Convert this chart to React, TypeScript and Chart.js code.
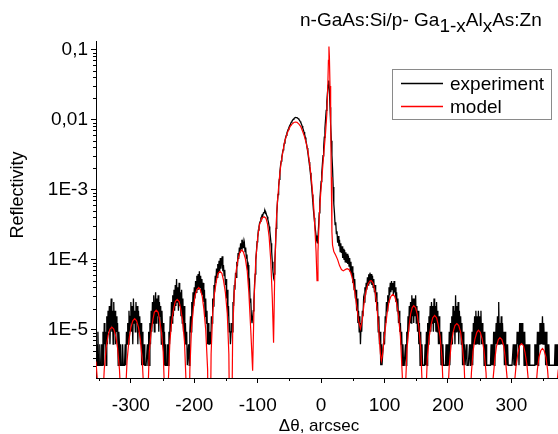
import React, { useEffect, useRef } from "react";
import { Chart, registerables } from "chart.js";

Chart.register(...registerables);

// ---- data ----
const seriesNames = ["experiment", "model"];
const COUNT_UNIT = 3.1e-6; // reflectivity of one detector count
const expStartX = -354;
const expStepX = 1;
// experiment, in detector counts, one value per arcsec from -354 (20 per row)
const expCounts = [
  2, 1, 3, 1, 1, 2, 1, 1, 2, 1, 3, 1, 4, 2, 3, 1, 5, 2, 6, 3,
  7, 2, 5, 9, 3, 6, 2, 8, 3, 6, 2, 5, 3, 4, 1, 3, 2, 1, 2, 1,
  1, 2, 1, 1, 1, 2, 1, 3, 2, 4, 2, 6, 3, 5, 8, 3, 7, 2, 9, 4,
  6, 3, 8, 4, 7, 2, 6, 3, 5, 2, 4, 1, 3, 2, 1, 2, 1, 1, 1, 1,
  2, 1, 3, 1, 4, 2, 6, 3, 8, 4, 10, 3, 7, 11, 4, 9, 5, 10, 3, 8,
  5, 7, 2, 6, 3, 4, 1, 3, 1, 2, 1, 1, 2, 1, 3, 2, 5, 3, 8, 4,
  10, 5, 12, 6, 14, 7, 17, 8, 13, 6, 15, 7, 11, 5, 12, 4, 9, 3, 7, 2,
  4, 2, 3, 1, 1, 2, 1, 3, 5, 3, 8, 5, 11, 7, 13, 9, 16, 11, 19, 12,
  20, 12, 22, 13, 19, 11, 17, 10, 15, 8, 12, 5, 9, 4, 6, 2, 4, 2, 2, 3,
  2, 5, 4, 9, 7, 14, 11, 19, 15, 24, 18, 28, 20, 31, 22, 34, 24, 30, 36, 22,
  27, 19, 23, 14, 17, 9, 12, 5, 7, 3, 4, 2, 3, 4, 3, 8, 7, 14, 12, 21,
  18, 30, 26, 40, 33, 48, 40, 55, 46, 62, 50, 58, 47, 55, 42, 48, 34, 38, 25, 27,
  15, 16, 8, 9, 5, 4, 4, 6, 8, 14, 20, 32, 42, 58, 66, 85, 95, 108, 113, 126,
  132, 140, 138, 150, 152, 157, 146, 150, 140, 132, 120, 110, 96, 84, 68, 55, 42, 30, 22, 18,
  20, 30, 48, 90, 145, 205, 274, 360, 450, 575, 710, 820, 935, 1060, 1190, 1335, 1480, 1625, 1770, 1915,
  2060, 2190, 2320, 2450, 2580, 2710, 2840, 2950, 3060, 3145, 3230, 3310, 3390, 3420, 3450, 3440, 3420, 3370, 3320, 3225,
  3130, 3015, 2900, 2755, 2610, 2450, 2290, 2130, 1970, 1790, 1610, 1435, 1260, 1100, 935, 800, 680, 560, 450, 360,
  275, 210, 160, 128, 103, 85, 71, 60, 56, 68, 97, 150, 226, 310, 420, 560, 740, 980, 1290, 1800,
  2420, 3250, 4350, 5800, 7740, 10000, 11600, 8500, 4840, 2800, 1610, 1000, 645, 350, 200, 150, 102, 110, 76, 82,
  56, 70, 50, 62, 42, 55, 40, 50, 34, 46, 32, 44, 30, 41, 29, 39, 28, 37, 26, 34,
  22, 30, 19, 26, 15, 21, 12, 17, 9, 12, 6, 9, 4, 6, 3, 5, 2, 4, 3, 6,
  5, 9, 8, 13, 10, 15, 12, 18, 14, 20, 15, 21, 16, 20, 14, 19, 13, 17, 11, 14,
  8, 11, 6, 8, 3, 5, 2, 3, 1, 2, 1, 1, 2, 3, 2, 5, 4, 8, 6, 10,
  8, 13, 10, 15, 11, 16, 12, 15, 10, 16, 11, 13, 8, 11, 6, 9, 4, 6, 3, 4,
  2, 3, 1, 2, 1, 1, 1, 2, 1, 3, 2, 5, 3, 7, 4, 8, 4, 10, 5, 9,
  4, 9, 5, 10, 4, 7, 3, 6, 2, 4, 1, 3, 1, 2, 1, 1, 1, 1, 2, 1,
  3, 1, 4, 2, 5, 3, 7, 3, 8, 4, 7, 3, 9, 4, 7, 3, 8, 3, 6, 2,
  5, 2, 3, 1, 3, 1, 2, 1, 1, 1, 1, 2, 1, 1, 2, 1, 3, 1, 4, 2,
  5, 2, 7, 3, 6, 2, 10, 3, 7, 3, 8, 2, 6, 3, 5, 2, 4, 1, 3, 1,
  2, 1, 1, 2, 1, 1, 1, 1, 2, 1, 2, 1, 3, 1, 4, 2, 5, 2, 6, 2,
  5, 2, 6, 2, 5, 3, 6, 2, 4, 2, 3, 1, 3, 1, 2, 1, 1, 1, 1, 1,
  1, 1, 2, 1, 2, 1, 3, 1, 3, 2, 4, 2, 5, 2, 8, 2, 4, 2, 5, 2,
  4, 2, 3, 1, 3, 1, 2, 1, 2, 1, 1, 1, 1, 1, 1, 1, 1, 2, 1, 2,
  1, 2, 1, 3, 2, 3, 1, 4, 2, 4, 2, 4, 2, 3, 1, 3, 1, 2, 1, 2,
  1, 1, 2, 1, 1, 1, 1, 1, 1, 1, 1, 2, 1, 2, 1, 3, 1, 3, 2, 4,
  2, 4, 2, 5, 2, 4, 2, 3, 1, 3, 1, 2, 1, 2, 1, 1, 1, 1, 1, 1,
  1, 1, 1, 2, 1, 1, 2, 1, 1,
];

const modelX = [
  -355, -352, -348,
  -345, -342, -339, -336, -333, -330, -327, -324, -321, -318, -315, -312,
  -309, -306, -303, -300, -297, -294, -291, -288, -285, -282, -279, -276,
  -273, -271, -268, -265, -263, -260, -257, -255, -252, -249, -247, -244,
  -241, -238.5, -235.5, -232.5, -230, -227, -224, -221.5, -218.5, -215.5, -213, -210,
  -207, -204.5, -201.5, -199, -196, -193, -190.5, -187.5, -185, -182, -179, -176.5,
  -173.5, -171, -168, -165, -162.5, -159.5, -156.5, -154, -151, -148, -145.5, -142.5,
  -139.5, -137, -134, -131, -128, -125, -122.5, -119.5, -116.5, -114, -111, -108,
  -105.5, -103, -100, -97, -93.5, -90, -87, -84.5, -82, -79.5, -77, -75,
  -73, -71, -69, -66, -63.5, -60.5, -58, -55, -52, -49, -46, -43, -40.5,
  -38, -35, -32, -29.5, -26.5, -23.5, -20.5, -18, -15, -12, -10, -8, -6.5,
  -5, -3, -1, 1, 3, 5, 7, 9, 10.5, 11.5, 12.3, 13, 14, 15, 16, 17, 18,
  20, 23, 26, 29, 32, 35, 38, 41, 44, 47, 50, 53, 56, 59, 62,
  65, 68, 71, 74, 77, 79, 82, 85, 88, 91, 93.5, 95,
  96.5, 98, 101, 104, 107, 110, 113, 116, 119, 122, 125, 128, 130.5,
  133, 135.5, 138.5, 141, 143.5, 146, 149, 151.5, 154, 157, 159.5, 162,
  165, 167.5, 170.5, 173.5, 176, 179, 182, 184.5, 187.5, 190.5, 193, 196,
  199, 202, 205, 208, 211, 214, 217, 220, 222.5, 225.5, 228, 231,
  234, 237, 239.5, 242.5, 245.5, 248, 251, 254, 257, 260, 262.5, 265.5,
  268.5, 271, 274, 276.5, 279.5, 282, 285, 288, 290.5, 293.5, 296, 299,
  302, 304.5, 307.5, 310.5, 313, 316, 319, 321.5, 324.5, 327.5, 330, 333,
  335.5, 338.5, 341, 343.5, 346.5, 349, 351.5, 354.5, 357, 359.5, 362.5, 365,
  368, 371, 374,
];
const modelY = [
  3.5e-6, 1.5e-6, 1e-8,
  7.3e-7, 2.7e-6, 5.5e-6, 8.2e-6, 1.02e-5, 1.09e-5, 1.02e-5, 8.2e-6, 5.5e-6, 2.7e-6, 7.3e-7, 1e-8,
  9.6e-7, 3.6e-6, 7.2e-6, 1.08e-5, 1.34e-5, 1.44e-5, 1.34e-5, 1.08e-5, 7.2e-6, 3.6e-6, 9.6e-7, 1e-8,
  1.3e-6, 4.8e-6, 9.5e-6, 1.43e-5, 1.77e-5, 1.9e-5, 1.77e-5, 1.43e-5, 9.5e-6, 4.8e-6, 1.3e-6, 1e-8,
  1.8e-6, 6.8e-6, 1.35e-5, 2e-5, 2.52e-5, 2.7e-5, 2.52e-5, 2e-5, 1.35e-5, 6.8e-6, 1.8e-6, 1e-8,
  2.7e-6, 1e-5, 2e-5, 3e-5, 3.73e-5, 4e-5, 3.73e-5, 3e-5, 2e-5, 1e-5, 2.7e-6, 1e-8,
  4.5e-6, 1.7e-5, 3.4e-5, 5.1e-5, 6.35e-5, 6.8e-5, 6.35e-5, 5.1e-5, 3.4e-5, 1.7e-5, 4.5e-6, 1e-8,
  9.2e-6, 3.4e-5, 6.85e-5, 1.03e-4, 1.28e-4, 1.37e-4, 1.28e-4, 1.03e-4, 6.85e-5, 3.4e-5, 1e-5, 2.6e-6,
  3e-5, 1e-4, 2.1e-4, 3.2e-4, 3.9e-4, 4.1e-4, 3.9e-4, 3.2e-4, 2.1e-4, 1e-4, 2.8e-5, 6.5e-6,
  7.7e-5, 3.1e-4, 6.5e-4, 1.4e-3, 2.3e-3, 3.4e-3, 4.6e-3, 5.8e-3, 6.9e-3, 7.9e-3, 8.6e-3, 9.05e-3, 9.2e-3,
  9.1e-3, 8.6e-3, 7.9e-3, 6.9e-3, 5.8e-3, 4.6e-3, 3.4e-3, 2.3e-3, 1.3e-3, 6.2e-4, 3e-4, 1.3e-4, 5e-5,
  1.3e-4, 4e-4, 8e-4, 1.4e-3, 2.4e-3, 4e-3, 6.5e-3, 0.012, 0.03, 0.07, 0.11, 0.08, 0.03, 0.01, 1.5e-3, 2.5e-4, 1.6e-4,
  1.3e-4, 1.15e-4, 1e-4, 8.2e-5, 7.2e-5, 6.9e-5, 7.2e-5, 7.4e-5, 7.2e-5, 6.4e-5, 5e-5, 3.5e-5, 2.2e-5, 1.35e-5, 1.03e-5,
  1.4e-5, 2.5e-5, 3.6e-5, 4.5e-5, 4.95e-5, 5e-5, 4.6e-5, 3.5e-5, 2.1e-5, 9.5e-6, 4.5e-6, 3.6e-6,
  4.2e-6, 5.5e-6, 1e-5, 1.7e-5, 2.5e-5, 3e-5, 3.2e-5, 3e-5, 2.4e-5, 1.6e-5, 8e-6, 2.2e-6, 1e-8,
  1.5e-6, 5.5e-6, 1.1e-5, 1.65e-5, 2.05e-5, 2.2e-5, 2.05e-5, 1.65e-5, 1.1e-5, 5.5e-6, 1.5e-6, 1e-8,
  1.07e-6, 4e-6, 8e-6, 1.19e-5, 1.48e-5, 1.59e-5, 1.48e-5, 1.19e-5, 8e-6, 4e-6, 1.07e-6, 1e-8,
  8.2e-7, 3.05e-6, 6.1e-6, 9.15e-6, 1.14e-5, 1.22e-5, 1.14e-5, 9.15e-6, 6.1e-6, 3.05e-6, 8.2e-7, 1e-8,
  6.6e-7, 2.45e-6, 4.9e-6, 7.35e-6, 9.15e-6, 9.8e-6, 9.15e-6, 7.35e-6, 4.9e-6, 2.45e-6, 6.6e-7, 1e-8,
  5.2e-7, 1.93e-6, 3.85e-6, 5.8e-6, 7.2e-6, 7.7e-6, 7.2e-6, 5.8e-6, 3.85e-6, 1.93e-6, 5.2e-7, 1e-8,
  4.2e-7, 1.58e-6, 3.15e-6, 4.7e-6, 5.9e-6, 6.3e-6, 5.9e-6, 4.7e-6, 3.15e-6, 1.58e-6, 4.2e-7, 1e-8,
  3.6e-7, 1.35e-6, 2.7e-6, 4.05e-6, 5.05e-6, 5.4e-6, 5.05e-6, 4.05e-6, 2.7e-6, 1.35e-6, 3.6e-7, 1e-8,
  3.8e-7, 1.4e-6, 2.7e-6,
];

const xMin = -355;
const xMax = 373.5;
const yMin = 2.04e-6;
const yMax = 0.132;
const xTicks = [-300, -200, -100, 0, 100, 200, 300];
const xMinorTicks = [-350, -250, -150, -50, 50, 150, 250, 350];
const yTicks = [1e-5, 1e-4, 1e-3, 1e-2, 1e-1];
const yTickLabels = ["1E-5", "1E-4", "1E-3", "0,01", "0,1"];
const xTitle = "Δθ, arcsec";
const yTitle = "Reflectivity";
const titleParts = [
  { t: "n-GaAs:Si/p- Ga", sub: false },
  { t: "1-x", sub: true },
  { t: "Al", sub: false },
  { t: "x", sub: true },
  { t: "As:Zn", sub: false },
];

const FONT = "'Liberation Sans', Arial, sans-serif";

const decorPlugin = {
  id: "decor",
  afterDraw(chart: any) {
    const { ctx, chartArea } = chart;
    const xs = chart.scales.x;
    const ys = chart.scales.y;
    ctx.save();
    ctx.strokeStyle = "#000";
    ctx.lineWidth = 1;
    // minor x ticks
    xMinorTicks.forEach((v) => {
      const px = Math.round(xs.getPixelForValue(v)) + 0.5;
      ctx.beginPath();
      ctx.moveTo(px, chartArea.bottom);
      ctx.lineTo(px, chartArea.bottom + 3);
      ctx.stroke();
    });
    // minor y ticks
    for (let d = -6; d <= -1; d++) {
      for (let k = 2; k <= 9; k++) {
        const v = k * Math.pow(10, d);
        if (v < yMin || v > yMax) continue;
        const py = Math.round(ys.getPixelForValue(v)) + 0.5;
        ctx.beginPath();
        ctx.moveTo(chartArea.left, py);
        ctx.lineTo(chartArea.left - 3, py);
        ctx.stroke();
      }
    }
    // axis titles
    ctx.fillStyle = "#000";
    ctx.textAlign = "center";
    ctx.textBaseline = "middle";
    ctx.font = `17px ${FONT}`;
    ctx.fillText(xTitle, 319, 426);
    ctx.save();
    ctx.translate(18, 195);
    ctx.rotate(-Math.PI / 2);
    ctx.font = `18px ${FONT}`;
    ctx.fillText(yTitle, 0, 0);
    ctx.restore();
    // legend
    const lx = 392.5, ly = 69.5, lw = 159, lh = 50;
    ctx.fillStyle = "#fff";
    ctx.fillRect(lx, ly, lw, lh);
    ctx.strokeStyle = "#8a8a8a";
    ctx.lineWidth = 1;
    ctx.strokeRect(lx, ly, lw, lh);
    const colors = ["#000000", "#ff0000"];
    seriesNames.forEach((name, i) => {
      const yy = 83.5 + i * 23;
      ctx.strokeStyle = colors[i];
      ctx.lineWidth = 1.3;
      ctx.beginPath();
      ctx.moveTo(401, yy);
      ctx.lineTo(443, yy);
      ctx.stroke();
      ctx.fillStyle = "#000";
      ctx.font = `19px ${FONT}`;
      ctx.textBaseline = "middle";
      ctx.textAlign = "left";
      ctx.fillText(name, 450, yy + 1);
    });
    // title with subscripts
    let tx = 300;
    const baseY = 26;
    ctx.fillStyle = "#000";
    ctx.textBaseline = "alphabetic";
    ctx.textAlign = "left";
    titleParts.forEach((p) => {
      ctx.font = `19px ${FONT}`;
      const yy = p.sub ? baseY + 6 : baseY;
      ctx.fillText(p.t, tx, yy);
      tx += ctx.measureText(p.t).width;
    });
    ctx.restore();
  },
};

export default function App() {
  const ref = useRef<HTMLCanvasElement | null>(null);
  useEffect(() => {
    if (!ref.current) return;
    const expData = expCounts.map((c, i) => ({ x: expStartX + i * expStepX, y: c * COUNT_UNIT }));
    const modelData = modelX.map((x, i) => ({ x, y: modelY[i] }));
    const chart = new Chart(ref.current, {
      type: "scatter",
      data: {
        datasets: [
          {
            label: seriesNames[0],
            data: expData,
            showLine: true,
            borderColor: "#000000",
            borderWidth: 1.3,
            pointRadius: 0,
            tension: 0,
            order: 2,
          },
          {
            label: seriesNames[1],
            data: modelData,
            showLine: true,
            borderColor: "#ff0000",
            borderWidth: 1.2,
            pointRadius: 0,
            tension: 0,
            order: 1,
          },
        ],
      },
      options: {
        animation: false,
        responsive: false,
        devicePixelRatio: 1,
        layout: { padding: { top: 41, left: 0, right: 0, bottom: 0 } },
        plugins: { legend: { display: false }, tooltip: { enabled: false }, title: { display: false } },
        scales: {
          x: {
            type: "linear",
            min: xMin,
            max: xMax,
            afterBuildTicks: (s: any) => {
              s.ticks = xTicks.map((v) => ({ value: v }));
            },
            afterFit: (s: any) => {
              s.height = 56;
            },
            ticks: {
              callback: (v: any) => String(v),
              font: { family: FONT, size: 19 },
              color: "#000",
              maxRotation: 0,
              autoSkip: false,
              padding: 11,
            },
            grid: { display: true, drawOnChartArea: false, drawTicks: true, tickLength: 5, color: "#000", tickWidth: 1 },
            border: { display: true, color: "#000", width: 1 },
            title: { display: false },
          },
          y: {
            type: "logarithmic",
            min: yMin,
            max: yMax,
            afterBuildTicks: (s: any) => {
              s.ticks = yTicks.map((v) => ({ value: v, major: true }));
            },
            afterFit: (s: any) => {
              s.width = 96;
            },
            ticks: {
              callback: (v: any) => {
                const i = yTicks.findIndex((t) => Math.abs(Math.log10(t) - Math.log10(Number(v))) < 1e-6);
                return i >= 0 ? yTickLabels[i] : "";
              },
              font: { family: FONT, size: 19 },
              color: "#000",
              autoSkip: false,
              padding: 3,
            },
            grid: { display: true, drawOnChartArea: false, drawTicks: true, tickLength: 5, color: "#000", tickWidth: 1 },
            border: { display: true, color: "#000", width: 1 },
            title: { display: false },
          },
        },
      },
      plugins: [decorPlugin],
    });
    return () => chart.destroy();
  }, []);
  return (
    <canvas
      ref={ref}
      width={558}
      height={434}
      style={{ position: "absolute", left: 0, top: 0, width: 558, height: 434 }}
    />
  );
}
